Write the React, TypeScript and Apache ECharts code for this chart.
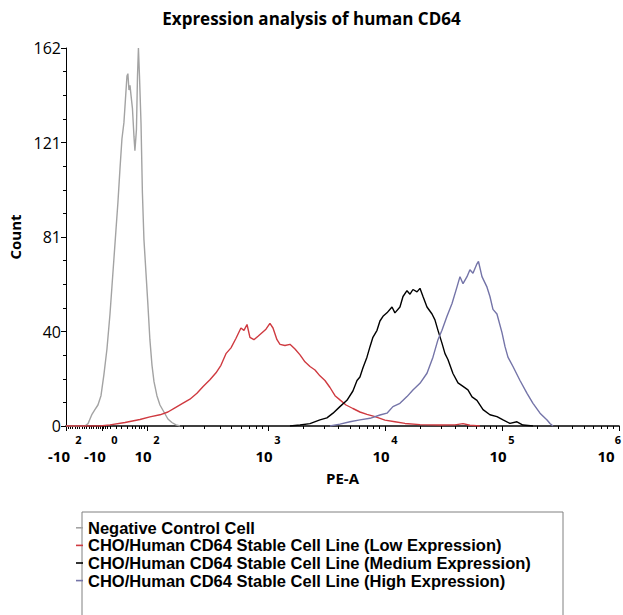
import React, { useEffect, useRef } from "react";
import * as echarts from "echarts";

// X values are positions on the biexponential (logicle) PE-A scale, in decades.
const seriesNames = [
  "Negative Control Cell",
  "CHO/Human CD64 Stable Cell Line (Low Expression)",
  "CHO/Human CD64 Stable Cell Line (Medium Expression)",
  "CHO/Human CD64 Stable Cell Line (High Expression)",
];
const seriesColors = ["#a3a3a3", "#cf3a40", "#000000", "#7474a8"];

const grayX = [1.274, 1.436, 1.462, 1.496, 1.521, 1.547, 1.573, 1.598, 1.624, 1.65, 1.667, 1.684, 1.701, 1.718, 1.735, 1.752, 1.769, 1.782, 1.795, 1.803, 1.812, 1.821, 1.829, 1.842, 1.855, 1.863, 1.876, 1.885, 1.893, 1.902, 1.915, 1.927, 1.94, 1.957, 1.974, 1.991, 2.009, 2.026, 2.051, 2.077, 2.111, 2.145, 2.179, 2.214, 2.248];
const grayY = [0, 0, 1, 5, 7, 9, 13, 22, 33, 48, 60, 72, 84, 96, 110, 123, 130, 140, 150, 151, 144, 146, 142, 136, 124, 118, 127, 150, 162, 150, 130, 100, 80, 66, 52, 37, 26, 19, 13, 9, 6, 3, 1.5, 0.5, 0];

const redX = [1.274, 1.564, 1.65, 1.778, 1.906, 1.991, 2.077, 2.145, 2.205, 2.274, 2.333, 2.393, 2.444, 2.504, 2.556, 2.598, 2.641, 2.684, 2.726, 2.769, 2.795, 2.821, 2.846, 2.88, 2.915, 2.949, 2.983, 3.017, 3.043, 3.077, 3.103, 3.145, 3.188, 3.231, 3.274, 3.316, 3.359, 3.402, 3.444, 3.487, 3.53, 3.573, 3.615, 3.667, 3.726, 3.786, 3.846, 3.915, 4.0, 4.085, 4.171, 4.299, 4.47, 4.598, 4.667, 4.726, 4.812];
const redY = [0, 0, 0.5, 1.5, 2.8, 3.9, 4.8, 6, 7.8, 9.8, 11.5, 14, 16.8, 19.8, 22.8, 26, 31, 33.5, 37.5, 42, 41, 43.5, 38, 37, 38.5, 40, 41.5, 44, 42, 37, 35, 34.5, 35, 33, 30.5, 27.5, 25.5, 24, 21.5, 19.5, 16.5, 13, 11.2, 9, 7.5, 6, 5, 4, 2.5, 1.8, 1.1, 0.6, 0.4, 0.5, 1.0, 0.3, 0];

const blackX = [3.188, 3.274, 3.359, 3.444, 3.504, 3.556, 3.615, 3.675, 3.726, 3.761, 3.786, 3.812, 3.846, 3.872, 3.897, 3.932, 3.957, 3.983, 4.017, 4.06, 4.085, 4.128, 4.154, 4.188, 4.214, 4.239, 4.274, 4.299, 4.325, 4.359, 4.402, 4.427, 4.453, 4.487, 4.513, 4.538, 4.581, 4.624, 4.667, 4.709, 4.744, 4.786, 4.838, 4.897, 4.957, 5.009, 5.068, 5.128, 5.179, 5.265];
const blackY = [0, 0.4, 1, 2.6, 3.5, 5.5, 8.3, 11, 15, 19.5, 21, 25, 29.5, 34, 38, 41, 45, 47, 48.5, 51, 48.5, 51, 55.5, 58, 56.5, 58.5, 57.5, 59, 55.5, 51, 48, 45.5, 41, 35.5, 31, 28.5, 22.5, 18.5, 17, 15.5, 12.5, 11, 7, 4.8, 4, 2.6, 1.1, 1.8, 0.4, 0];

const blueX = [3.53, 3.615, 3.701, 3.786, 3.872, 3.957, 4.017, 4.068, 4.128, 4.188, 4.239, 4.299, 4.359, 4.41, 4.453, 4.487, 4.53, 4.573, 4.615, 4.641, 4.667, 4.701, 4.726, 4.752, 4.786, 4.799, 4.829, 4.872, 4.897, 4.923, 4.957, 5.0, 5.026, 5.051, 5.094, 5.154, 5.214, 5.265, 5.325, 5.385, 5.41, 5.436];
const blueY = [0, 0.8, 1.8, 2.6, 3.3, 4.7, 5.5, 8.3, 9.7, 12.6, 15.4, 18.3, 22.6, 29.5, 37, 41, 47, 52.5, 59.5, 64, 61, 64, 67, 65.5, 69.5, 70.5, 64, 59.5, 55.5, 50, 48, 40, 34, 29.5, 25.5, 19.5, 14, 9.7, 5.5, 2.6, 1.1, 0];

// Axis ticks
const xTickValues = [1.274, 1.581, 1.966, 3, 4, 5, 6];
const xTickBase = ["-10", "-10", "10", "10", "10", "10", "10"];
const xTickExp = ["2", "0", "2", "3", "4", "5", "6"];
const yTicks = [0, 40.5, 81, 121.5, 162];
const yTickLabels = ["0", "40", "81", "121", "162"];

const FONT = "'Open Sans', 'Noto Sans', sans-serif";
const LEGEND_FONT = "'Liberation Sans', Arial, sans-serif";

function buildMinorTicks(): number[] {
  const out: number[] = [];
  for (let v = 1.29; v < 1.655; v += 0.02) out.push(+v.toFixed(3));
  [1.7, 1.75, 1.8, 1.84, 1.87, 1.9, 1.92, 1.94].forEach((v) => out.push(v));
  for (let k = 2; k <= 9; k++) out.push(1.966 + 1.034 * Math.log10(k));
  for (let n = 3; n <= 5; n++) for (let k = 2; k <= 9; k++) out.push(n + Math.log10(k));
  return out;
}

const zip = (xs: number[], ys: number[]) => xs.map((x, i) => [x, ys[i]]);

export default function App() {
  const ref = useRef<HTMLDivElement>(null);
  useEffect(() => {
    if (!ref.current) return;
    const chart = echarts.init(ref.current, null, { renderer: "svg" });
    const dataSets = [zip(grayX, grayY), zip(redX, redY), zip(blackX, blackY), zip(blueX, blueY)];
    const xMin = xTickValues[0];
    const xMax = xTickValues[xTickValues.length - 1];
    const lastIdx = xTickValues.length - 1;
    const rs = { fontFamily: FONT, fontWeight: "bold", color: "#000" };
    chart.setOption({
      animation: false,
      backgroundColor: "#ffffff",
      textStyle: { fontFamily: FONT },
      title: {
        text: "Expression analysis of human CD64",
        left: "center",
        top: 5,
        textStyle: { fontFamily: FONT, fontSize: 17, fontWeight: "bold", color: "#000" },
      },
      grid: { left: 66, right: 4, top: 48, bottom: 189, containLabel: false, outerBoundsMode: "none" },
      xAxis: [
        {
          type: "value",
          min: xMin,
          max: xMax,
          position: "bottom",
          name: "PE-A",
          nameLocation: "middle",
          nameGap: 44,
          nameTextStyle: { fontFamily: FONT, fontSize: 15, fontWeight: "bold", color: "#000" },
          splitLine: { show: false },
          axisLine: { show: true, lineStyle: { color: "#000", width: 1.6 } },
          axisTick: { show: true, customValues: xTickValues, length: 5, lineStyle: { color: "#000", width: 1 } },
          axisLabel: {
            customValues: xTickValues,
            margin: 6,
            color: "#000",
            hideOverlap: false,
            formatter: (v: number) => {
              const i = xTickValues.findIndex((t) => Math.abs(t - v) < 1e-6);
              if (i < 0) return "";
              if (i === lastIdx) return `{ee|${xTickExp[i]}}\n{be|${xTickBase[i]}}`;
              const neg = xTickBase[i].startsWith("-");
              return `{${neg ? "en" : "ep"}|${xTickExp[i]}}\n{${neg ? "bn" : "bp"}|${xTickBase[i]}}`;
            },
            rich: {
              ep: { ...rs, fontSize: 11, padding: [0, 0, 0, 19], lineHeight: 15 },
              en: { ...rs, fontSize: 11, padding: [0, 0, 0, 25], lineHeight: 15 },
              ee: { ...rs, fontSize: 11, padding: [0, 2, 0, 0], lineHeight: 15 },
              bp: { ...rs, fontSize: 15, padding: [0, 8, 0, 0], lineHeight: 18 },
              bn: { ...rs, fontSize: 15, padding: [0, 14, 0, 0], lineHeight: 18 },
              be: { ...rs, fontSize: 15, padding: [0, 26, 0, 0], lineHeight: 18 },
            },
          },
        },
        {
          type: "value",
          min: xMin,
          max: xMax,
          position: "bottom",
          offset: 0,
          splitLine: { show: false },
          axisLine: { show: false },
          axisLabel: { show: false },
          axisTick: { show: true, customValues: buildMinorTicks(), length: 3, lineStyle: { color: "#000", width: 1 } },
        },
      ],
      yAxis: {
        type: "value",
        min: 0,
        max: 162,
        interval: 40.5,
        name: "Count",
        nameLocation: "middle",
        nameGap: 40,
        nameTextStyle: { fontFamily: FONT, fontSize: 15, fontWeight: "bold", color: "#000" },
        splitLine: { show: false },
        axisLine: { show: true, lineStyle: { color: "#000", width: 1 } },
        axisTick: { show: true, length: 5, lineStyle: { color: "#000" } },
        minorTick: { show: true, splitNumber: 4, length: 3, lineStyle: { color: "#000" } },
        minorSplitLine: { show: false },
        axisLabel: {
          margin: 5,
          color: "#000",
          fontFamily: FONT,
          fontSize: 16,
          formatter: (v: number) => {
            const i = yTicks.findIndex((t) => Math.abs(t - v) < 1e-6);
            return i < 0 ? "" : yTickLabels[i];
          },
        },
      },
      legend: {
        orient: "vertical",
        left: 76,
        top: 519,
        icon: "rect",
        itemWidth: 7,
        itemHeight: 1.6,
        itemGap: 0,
        padding: 0,
        selectedMode: false,
        data: seriesNames,
        textStyle: { fontFamily: LEGEND_FONT, fontSize: 16.5, fontWeight: "bold", color: "#000", lineHeight: 17.6 },
      },
      graphic: [
        {
          type: "rect",
          shape: { x: 82, y: 512, width: 481, height: 130 },
          style: { fill: "none", stroke: "#808080", lineWidth: 1 },
          z: 0,
        },
      ],
      series: dataSets.map((d, i) => ({
        type: "line",
        name: seriesNames[i],
        data: d,
        symbol: "none",
        showSymbol: false,
        lineStyle: { color: seriesColors[i], width: 1.4 },
        itemStyle: { color: seriesColors[i] },
        z: 2 + i,
      })),
    });
    return () => chart.dispose();
  }, []);
  return (
    <div
      ref={ref}
      style={{ position: "absolute", left: 0, top: 0, width: 623, height: 615, background: "#fff" }}
    />
  );
}
